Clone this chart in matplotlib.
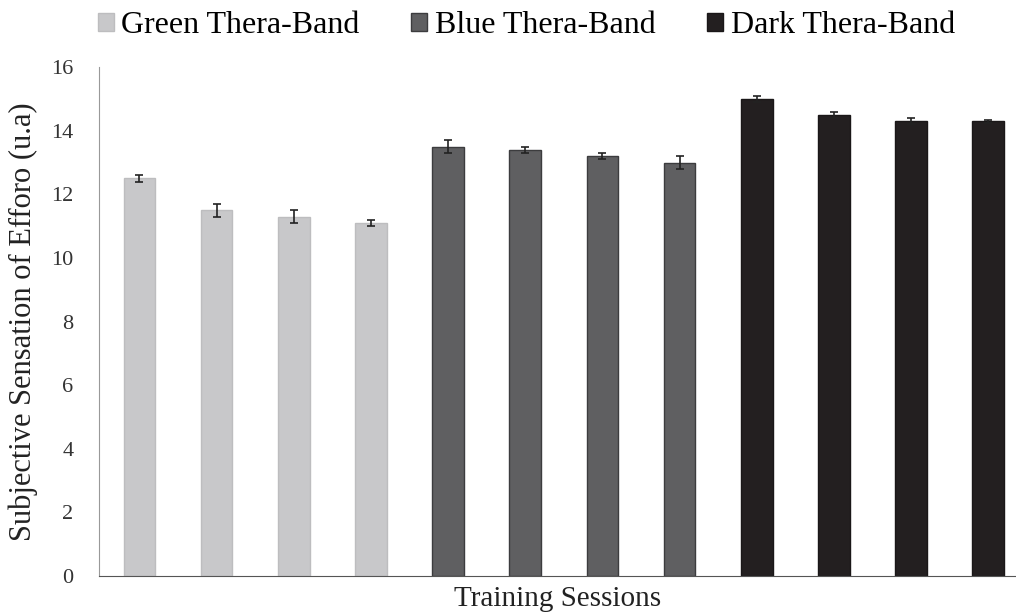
import matplotlib.pyplot as plt
import numpy as np

plt.rcParams['font.family'] = ['Liberation Serif', 'DejaVu Serif']

groups = ['Green Thera-Band', 'Blue Thera-Band', 'Dark Thera-Band']
colors = ['#c8c8ca', '#5f5f61', '#231f20']
bordas = ['#bdbdbf', '#3c3c3e', '#1a1718']
valores = [
    [12.5, 11.5, 11.3, 11.1],
    [13.5, 13.4, 13.2, 13.0],
    [15.0, 14.5, 14.3, 14.3],
]
erros = [
    [0.1, 0.2, 0.2, 0.1],
    [0.2, 0.1, 0.1, 0.2],
    [0.1, 0.1, 0.1, 0.05],
]

fig = plt.figure(figsize=(10.16, 6.16), dpi=100)
ax = fig.add_axes([0.097, 0.065, 0.903, 0.826])

pos = 0
for nome, cor, borda, v, e in zip(groups, colors, bordas, valores, erros):
    x = np.arange(pos, pos + len(v))
    ax.bar(x, v, width=0.41, color=cor, edgecolor=borda, linewidth=1, label=nome,
           yerr=e, capsize=3, error_kw={'ecolor': '#222222', 'elinewidth': 1.2, 'capthick': 1.2})
    pos += len(v)

ax.set_xlim(-0.53, 11.36)
ax.set_ylim(0, 16)
ax.set_yticks(range(0, 17, 2))
ax.set_xticks([])
ax.tick_params(axis='y', length=0, labelsize=16, pad=18, colors='#333333')
for s in ['top', 'right']:
    ax.spines[s].set_visible(False)
ax.spines['left'].set_color('#999999')
ax.spines['bottom'].set_color('#555555')

ax.set_ylabel('Subjective Sensation of Efforo (u.a)', fontsize=22, color='#222222')
ax.yaxis.set_label_coords(-0.066, 0.5)
ax.set_xlabel('Training Sessions', fontsize=21, color='#222222', labelpad=7)

ax.legend(loc='center left', bbox_to_anchor=(0.096, 0.958), bbox_transform=fig.transFigure,
          ncol=3, frameon=False, fontsize=23, handlelength=0.5, handleheight=0.5,
          handletextpad=0.25, columnspacing=1.6, borderpad=0, borderaxespad=0)

fig.savefig('out.png', dpi=100)
